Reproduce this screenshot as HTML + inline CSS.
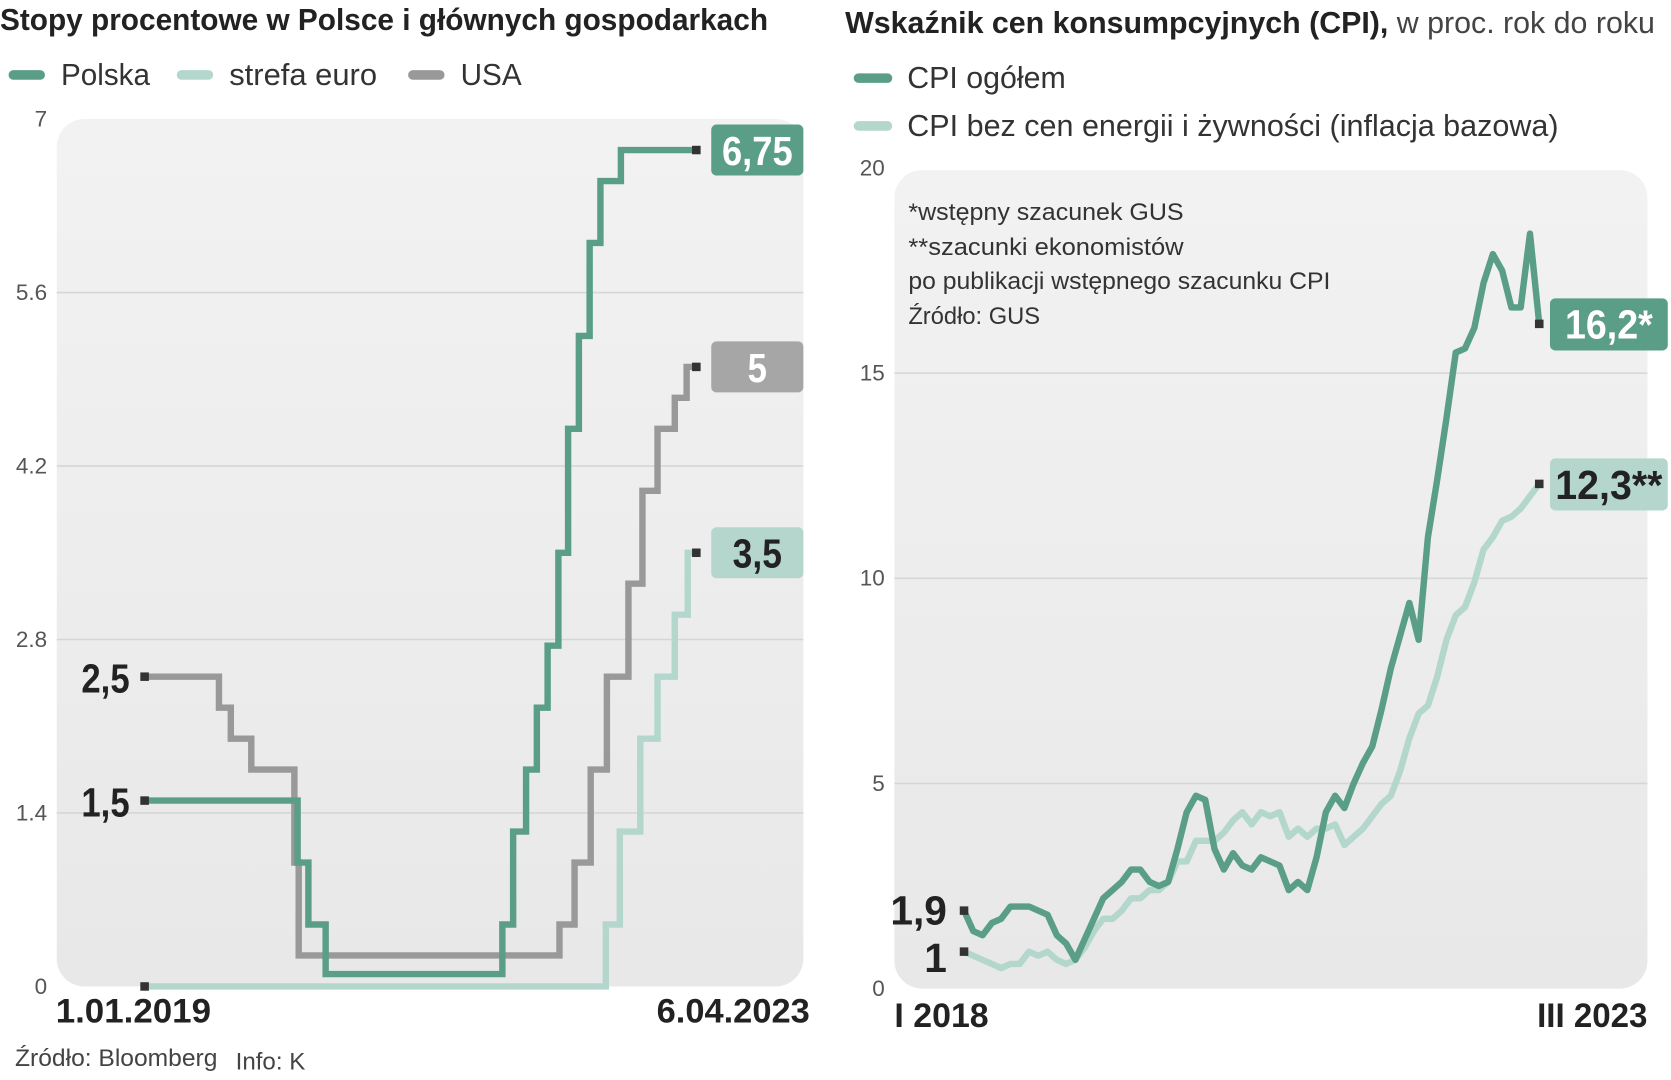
<!DOCTYPE html>
<html><head><meta charset="utf-8"><style>
html,body{margin:0;padding:0;background:#fff;}
svg{display:block;font-family:"Liberation Sans",sans-serif;}
</style></head><body>
<svg id="c" width="1671" height="1080" viewBox="0 0 1560 1016" preserveAspectRatio="none">
<defs>
<linearGradient id="bg" x1="0" y1="0" x2="0" y2="1"><stop offset="0" stop-color="#f2f2f2"/><stop offset="1" stop-color="#e8e8e8"/></linearGradient>
</defs>
<text x="0" y="28" font-size="29" font-weight="bold" fill="#222" textLength="717" lengthAdjust="spacingAndGlyphs">Stopy procentowe w Polsce i głównych gospodarkach</text>
<g>
<rect x="8" y="66" width="34" height="9" rx="4.5" fill="#5a9e87"/>
<text x="57" y="80" font-size="29" fill="#333" textLength="83" lengthAdjust="spacingAndGlyphs">Polska</text>
<rect x="165" y="66" width="34" height="9" rx="4.5" fill="#b3d7cc"/>
<text x="214" y="80" font-size="29" fill="#333" textLength="138" lengthAdjust="spacingAndGlyphs">strefa euro</text>
<rect x="381" y="66" width="34" height="9" rx="4.5" fill="#999"/>
<text x="430" y="80" font-size="29" fill="#333" textLength="57" lengthAdjust="spacingAndGlyphs">USA</text>
</g>
<rect x="53" y="112" width="697" height="816" rx="26" fill="url(#bg)"/>
<g id="lgrid"></g>
<g id="lseries"></g>
<text x="52" y="962" font-size="32" font-weight="bold" fill="#222" textLength="145" lengthAdjust="spacingAndGlyphs">1.01.2019</text>
<text x="613" y="962" font-size="32" font-weight="bold" fill="#222" textLength="143" lengthAdjust="spacingAndGlyphs">6.04.2023</text>
<text x="14" y="1003" font-size="23" fill="#444" textLength="189" lengthAdjust="spacingAndGlyphs">Źródło: Bloomberg</text>
<text x="220" y="1006" font-size="23" fill="#444" textLength="65" lengthAdjust="spacingAndGlyphs">Info: K</text>

<text x="789" y="31" font-size="29" fill="#222" textLength="756" lengthAdjust="spacingAndGlyphs"><tspan font-weight="bold">Wskaźnik cen konsumpcyjnych (CPI),</tspan><tspan fill="#444"> w proc. rok do roku</tspan></text>
<g>
<rect x="797" y="69" width="36" height="9" rx="4.5" fill="#5a9e87"/>
<text x="847" y="83" font-size="29" fill="#333" textLength="148" lengthAdjust="spacingAndGlyphs">CPI ogółem</text>
<rect x="797" y="114" width="36" height="9" rx="4.5" fill="#b3d7cc"/>
<text x="847" y="128" font-size="29" fill="#333" textLength="608" lengthAdjust="spacingAndGlyphs">CPI bez cen energii i żywności (inflacja bazowa)</text>
</g>
<rect x="835" y="160" width="703" height="770" rx="26" fill="url(#bg)"/>
<g font-size="23" fill="#333">
<text x="848" y="207" textLength="257" lengthAdjust="spacingAndGlyphs">*wstępny szacunek GUS</text>
<text x="848" y="240" textLength="257" lengthAdjust="spacingAndGlyphs">**szacunki ekonomistów</text>
<text x="848" y="272" textLength="394" lengthAdjust="spacingAndGlyphs">po publikacji wstępnego szacunku CPI</text>
<text x="848" y="305" textLength="123" lengthAdjust="spacingAndGlyphs">Źródło: GUS</text>
</g>
<g id="rgrid"></g>
<g id="rseries"></g>
<text x="835" y="966" font-size="32" font-weight="bold" fill="#222" textLength="88" lengthAdjust="spacingAndGlyphs">I 2018</text>
<text x="1435" y="966" font-size="32" font-weight="bold" fill="#222" textLength="103" lengthAdjust="spacingAndGlyphs">III 2023</text>
</svg>
<script>
const leftTicks = [0, 1.4, 2.8, 4.2, 5.6, 7];
const leftTickLabels = ["0", "1.4", "2.8", "4.2", "5.6", "7"];
const polskaMonths = [0, 14.2, 15.2, 16.8, 33.2, 34.2, 35.4, 36.4, 37.4, 38.4, 39.3, 40.3, 41.3, 42.3, 44.2];
const polskaRates = [1.5, 1.0, 0.5, 0.1, 0.5, 1.25, 1.75, 2.25, 2.75, 3.5, 4.5, 5.25, 6.0, 6.5, 6.75];
const euroMonths = [0, 42.8, 44.1, 46.0, 47.6, 49.2, 50.4];
const euroRates = [0, 0.5, 1.25, 2.0, 2.5, 3.0, 3.5];
const usaMonths = [0, 6.9, 8.0, 9.9, 13.9, 14.3, 38.5, 39.9, 41.4, 42.9, 44.9, 46.2, 47.6, 49.2, 50.3];
const usaRates = [2.5, 2.25, 2.0, 1.75, 1.0, 0.25, 0.5, 1.0, 1.75, 2.5, 3.25, 4.0, 4.5, 4.75, 5.0];
const leftEndMonth = 51.2;
const leftEndLabels = ["6,75", "5", "3,5"];
const leftStartLabels = ["2,5", "1,5"];

const rightTicks = [0, 5, 10, 15, 20];
const rightTickLabels = ["0", "5", "10", "15", "20"];
const cpiTotal = [1.9,1.4,1.3,1.6,1.7,2.0,2.0,2.0,1.9,1.8,1.3,1.1,
 0.7,1.2,1.7,2.2,2.4,2.6,2.9,2.9,2.6,2.5,2.6,3.4,
 4.3,4.7,4.6,3.4,2.9,3.3,3.0,2.9,3.2,3.1,3.0,2.4,
 2.6,2.4,3.2,4.3,4.7,4.4,5.0,5.5,5.9,6.8,7.8,8.6,
 9.4,8.5,11.0,12.4,13.9,15.5,15.6,16.1,17.2,17.9,17.5,16.6,
 16.6,18.4,16.2];
const cpiCore = [0.9,0.8,0.7,0.6,0.5,0.6,0.6,0.9,0.8,0.9,0.7,0.6,
 0.7,1.0,1.4,1.7,1.7,1.9,2.2,2.2,2.4,2.4,2.6,3.1,
 3.1,3.6,3.6,3.6,3.8,4.1,4.3,4.0,4.3,4.2,4.3,3.7,
 3.9,3.7,3.9,3.9,4.0,3.5,3.7,3.9,4.2,4.5,4.7,5.3,
 6.1,6.7,6.9,7.6,8.5,9.1,9.3,9.9,10.7,11.0,11.4,11.5,
 11.7,12.0,12.3];
const rightEndLabels = ["16,2*", "12,3**"];
const rightStartLabels = ["1,9", "1"];

const NS = "http://www.w3.org/2000/svg";
function mk(tag, attrs, parent, text) {
  const e = document.createElementNS(NS, tag);
  for (const k in attrs) e.setAttribute(k, attrs[k]);
  if (text !== undefined) e.textContent = text;
  parent.appendChild(e);
  return e;
}
const lx = m => 135 + m * 10.06;
const ly = v => 928 - v * (816 / 7);
const rx = i => 900 + i * (537 / 62);
const ry = v => 930 - v * (772 / 20);

const lg = document.getElementById('lgrid');
leftTicks.forEach((t, i) => {
  if (t > 0 && t < 7) {
    const l = mk('line', {x1: 53, x2: 750, y1: ly(t), y2: ly(t), stroke: '#d6d6d6', 'stroke-width': 1.5}, lg);
    
    
  }
  const tx = mk('text', {x: 44, y: ly(t) + 7, 'font-size': 21, fill: '#555', 'text-anchor': 'end'}, lg, leftTickLabels[i]);
  
  
});

function stepPath(ms, vs, end) {
  let d = 'M' + lx(ms[0]) + ' ' + ly(vs[0]);
  for (let i = 1; i < ms.length; i++) d += ' H' + lx(ms[i]) + ' V' + ly(vs[i]);
  d += ' H' + lx(end);
  return d;
}
const ls = document.getElementById('lseries');
const lsSpec = [
  ['series-euro', euroMonths, euroRates, '#b3d7cc'],
  ['series-usa', usaMonths, usaRates, '#999999'],
  ['series-polska', polskaMonths, polskaRates, '#5a9e87']
];
lsSpec.forEach(s => {
  const p = mk('path', {d: stepPath(s[1], s[2], leftEndMonth), fill: 'none', stroke: s[3], 'stroke-width': 6, 'stroke-linejoin': 'miter'}, ls);
  
  
  [[s[1][0], s[2][0]], [leftEndMonth, s[2][s[2].length - 1]]].forEach(pt => {
    const r = mk('rect', {x: lx(pt[0]) - 4, y: ly(pt[1]) - 4, width: 8, height: 8, fill: '#333'}, ls);
    
    
  });
});
const lEnd = [[polskaRates[polskaRates.length-1], '#5a9e87', '#fff', 66], [usaRates[usaRates.length-1], '#a6a6a6', '#fff', 18], [euroRates[euroRates.length-1], '#b5d6cc', '#222', 46]];
lEnd.forEach((e, i) => {
  const cy = ly(e[0]);
  const b = mk('rect', {x: 664, y: cy - 24, width: 86, height: 48, rx: 5, fill: e[1]}, ls);
  
  
  const t = mk('text', {x: 707, y: cy + 14, 'font-size': 38, 'font-weight': 'bold', fill: e[2], 'text-anchor': 'middle', textLength: e[3], lengthAdjust: 'spacingAndGlyphs'}, ls, leftEndLabels[i]);
  
  
});
[usaRates[0], polskaRates[0]].forEach((v, i) => {
  const t = mk('text', {x: 76, y: ly(v) + 15, 'font-size': 38, 'font-weight': 'bold', fill: '#222', textLength: 45, lengthAdjust: 'spacingAndGlyphs'}, ls, leftStartLabels[i]);
  
  
});

const rg = document.getElementById('rgrid');
rightTicks.forEach((t, i) => {
  if (t > 0 && t < 20) {
    const l = mk('line', {x1: 835, x2: 1538, y1: ry(t), y2: ry(t), stroke: '#d6d6d6', 'stroke-width': 1.5}, rg);
    
    
  }
  const tx = mk('text', {x: 826, y: ry(t) + 7, 'font-size': 21, fill: '#555', 'text-anchor': 'end'}, rg, rightTickLabels[i]);
  
  
});
const rs = document.getElementById('rseries');
[['series-cpi-core', cpiCore, '#b3d7cc'], ['series-cpi-total', cpiTotal, '#5a9e87']].forEach(s => {
  const d = s[1].map((v, i) => (i ? 'L' : 'M') + rx(i) + ' ' + ry(v)).join(' ');
  const p = mk('path', {d: d, fill: 'none', stroke: s[2], 'stroke-width': 6, 'stroke-linejoin': 'round'}, rs);
  
  
  [0, s[1].length - 1].forEach(i => {
    const r = mk('rect', {x: rx(i) - 4, y: ry(s[1][i]) - 4, width: 8, height: 8, fill: '#333'}, rs);
    
    
  });
});
[[cpiTotal[cpiTotal.length-1], '#5a9e87', '#fff', 82], [cpiCore[cpiCore.length-1], '#b5d6cc', '#222', 100]].forEach((e, i) => {
  const cy = ry(e[0]);
  const b = mk('rect', {x: 1447, y: cy - 24, width: 110, height: 49, rx: 5, fill: e[1]}, rs);
  
  
  const t = mk('text', {x: 1502, y: cy + 14, 'font-size': 38, 'font-weight': 'bold', fill: e[2], 'text-anchor': 'middle', textLength: e[3], lengthAdjust: 'spacingAndGlyphs'}, rs, rightEndLabels[i]);
  
  
});
[[cpiTotal[0], 0], [cpiCore[0], 6]].forEach((e, i) => {
  const t = mk('text', {x: 884, y: ry(e[0]) + 13 + e[1], 'font-size': 38, 'font-weight': 'bold', fill: '#222', 'text-anchor': 'end'}, rs, rightStartLabels[i]);
  
  
});
</script>
</body></html>
